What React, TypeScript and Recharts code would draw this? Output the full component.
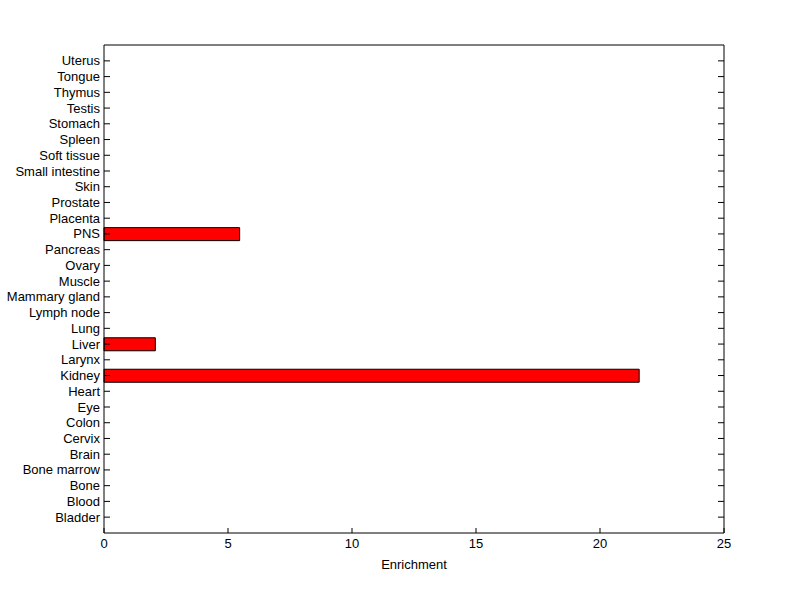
import { Bar, BarChart, XAxis, YAxis } from "recharts";

const tissues = [
  "Bladder", "Blood", "Bone", "Bone marrow", "Brain", "Cervix", "Colon", "Eye", "Heart", "Kidney",
  "Larynx", "Liver", "Lung", "Lymph node", "Mammary gland", "Muscle", "Ovary", "Pancreas", "PNS", "Placenta",
  "Prostate", "Skin", "Small intestine", "Soft tissue", "Spleen", "Stomach", "Testis", "Thymus", "Tongue", "Uterus",
];

const enrichment = [
  0, 0, 0, 0, 0, 0, 0, 0, 0, 21.58,
  0, 2.07, 0, 0, 0, 0, 0, 0, 5.47, 0,
  0, 0, 0, 0, 0, 0, 0, 0, 0, 0,
];

const xTicks = [0, 5, 10, 15, 20, 25];

const data = tissues.map((name, i) => ({ name, value: enrichment[i] }));

const fontFamily = "Liberation Sans, Arial, sans-serif";
const font = { fontFamily, fontSize: 13, fill: "#000" };
const axisLine = { stroke: "#000", strokeWidth: 1 };
const tickLine = { stroke: "#000", strokeWidth: 1 };

function TissueTick({ x, y, payload }: any) {
  return (
    <text x={x} y={y} dy="0.35em" textAnchor="end" fontFamily={fontFamily} fontSize={13} fill="#000">
      {payload.value}
    </text>
  );
}

export default function App() {
  return (
    <div style={{ position: "absolute", left: 0, top: 0, width: 800, height: 599, background: "#fff" }}>
      <BarChart
        width={800}
        height={599}
        data={data}
        layout="vertical"
        barCategoryGap="10%"
        margin={{ top: 44, right: 75, bottom: 26, left: 4 }}
      >
        <XAxis
          type="number"
          dataKey="value"
          domain={[0, 25]}
          ticks={xTicks}
          height={40}
          tickSize={-5}
          tickMargin={11}
          axisLine={axisLine}
          tickLine={tickLine}
          tick={font}
          label={{ value: "Enrichment", position: "insideBottom", offset: 4, style: font }}
        />
        <XAxis
          xAxisId="top"
          type="number"
          orientation="top"
          domain={[0, 25]}
          ticks={xTicks}
          height={1}
          tickSize={-5}
          tickMargin={0}
          axisLine={axisLine}
          tickLine={tickLine}
          tickFormatter={() => ""}
        />
        <YAxis
          type="category"
          dataKey="name"
          reversed
          width={100}
          padding={{ top: 8, bottom: 8 }}
          tickSize={-6}
          tickMargin={10}
          interval={0}
          axisLine={axisLine}
          tickLine={tickLine}
          tick={<TissueTick />}
        />
        <YAxis
          yAxisId="right"
          type="category"
          dataKey="name"
          orientation="right"
          reversed
          width={1}
          padding={{ top: 8, bottom: 8 }}
          tickSize={-6}
          tickMargin={0}
          interval={0}
          axisLine={axisLine}
          tickLine={tickLine}
          tickFormatter={() => ""}
        />
        <Bar dataKey="value" fill="#ff0000" stroke="#000" strokeWidth={1} isAnimationActive={false} />
      </BarChart>
    </div>
  );
}
